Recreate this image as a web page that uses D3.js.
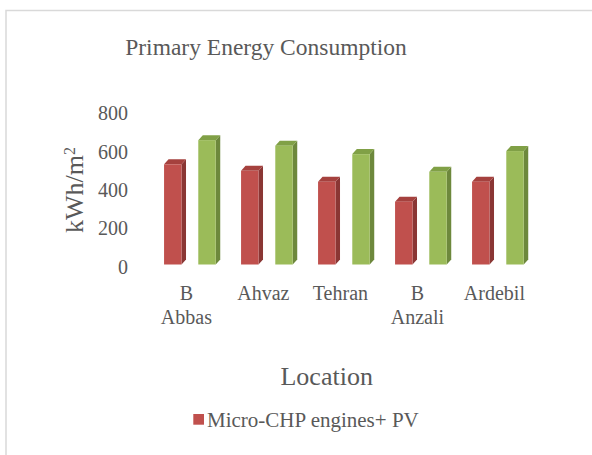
<!DOCTYPE html>
<html>
<head>
<meta charset="utf-8">
<script src="https://cdn.jsdelivr.net/npm/d3@7"></script>
<style>
  body { margin: 0; background: #fff; }
</style>
</head>
<body>
<div id="chart"></div>
<script>
// Data
const locations = ["B Abbas", "Ahvaz", "Tehran", "B Anzali", "Ardebil"];
const seriesNames = ["Micro-CHP engines+ PV", "Other"];
const chpValues = [523, 489, 432, 328, 432];
const otherValues = [649, 620, 576, 484, 592];
const yTicks = [0, 200, 400, 600, 800];

const width = 592, height = 455;
const depth = { dx: 4.5, dy: 5 };
const font = "Liberation Serif";
const textColor = "#595959";

const colors = {
  front: ["#c0504d", "#9bbb59"],
  side: ["#8a3634", "#6d883c"],
  top: ["#a5413e", "#80a046"]
};

const svg = d3.select("#chart").append("svg")
  .attr("width", width)
  .attr("height", height)
  .attr("font-family", font);

// chart area border (only left and top visible)
svg.append("rect")
  .attr("x", 6).attr("y", 10.5)
  .attr("width", 700).attr("height", 600)
  .attr("fill", "none")
  .attr("stroke", "#d9d9d9")
  .attr("stroke-width", 1.5);

svg.append("text")
  .attr("x", 266).attr("y", 55)
  .attr("text-anchor", "middle")
  .attr("fill", textColor)
  .attr("font-size", 23.5)
  .text("Primary Energy Consumption");

// scales
const x0 = d3.scaleBand().domain(locations).range([151.4, 536.4]);
const x1 = d3.scaleBand().domain(seriesNames)
  .range([0, x0.bandwidth()])
  .paddingInner(0.49).paddingOuter(0.37);
const y = d3.scaleLinear().domain([0, 800]).range([264.5, 111.2]);

// y axis
const yAxis = d3.axisLeft(y).tickValues(yTicks).tickSize(0).tickPadding(0);
const gy = svg.append("g")
  .attr("transform", "translate(128,2.2)")
  .call(yAxis)
  .attr("font-family", font)
  .attr("font-size", 20);
gy.select(".domain").remove();
gy.selectAll("text").attr("fill", textColor);

// y title
const yTitle = svg.append("text")
  .attr("transform", "translate(83,190) rotate(-90)")
  .attr("text-anchor", "middle")
  .attr("fill", textColor)
  .attr("font-size", 26);
yTitle.append("tspan").text("kWh/m");
yTitle.append("tspan").attr("baseline-shift", "super").attr("font-size", 16).text("2");

// bars
const rows = locations.map((loc, i) => ({
  loc,
  values: [chpValues[i], otherValues[i]]
}));

const groups = svg.append("g").selectAll("g")
  .data(rows)
  .join("g")
  .attr("transform", d => `translate(${x0(d.loc)},0)`);

groups.each(function(d) {
  const g = d3.select(this);
  d.values.forEach((v, s) => {
    const bx = x1(seriesNames[s]);
    const bw = x1.bandwidth();
    const yt = y(v), yb = y(0);
    // side
    g.append("polygon")
      .attr("points", [[bx + bw, yt], [bx + bw + depth.dx, yt - depth.dy],
        [bx + bw + depth.dx, yb - depth.dy], [bx + bw, yb]].join(" "))
      .attr("fill", colors.side[s]);
    // top
    g.append("polygon")
      .attr("points", [[bx, yt], [bx + depth.dx, yt - depth.dy],
        [bx + bw + depth.dx, yt - depth.dy], [bx + bw, yt]].join(" "))
      .attr("fill", colors.top[s]);
    // front
    g.append("rect")
      .attr("x", bx).attr("y", yt)
      .attr("width", bw).attr("height", yb - yt)
      .attr("fill", colors.front[s]);
  });
});

// x labels (two-word names wrap onto two lines)
const xl = svg.append("g").selectAll("text")
  .data(locations)
  .join("text")
  .attr("x", d => x0(d) + x0.bandwidth() / 2 - 3.5)
  .attr("y", 300)
  .attr("text-anchor", "middle")
  .attr("fill", textColor)
  .attr("font-size", 20);
xl.each(function(d) {
  const t = d3.select(this);
  d.split(" ").forEach((p, i) => {
    t.append("tspan")
      .attr("x", t.attr("x"))
      .attr("dy", i === 0 ? 0 : 24)
      .text(p);
  });
});

svg.append("text")
  .attr("x", 326.7).attr("y", 385)
  .attr("text-anchor", "middle")
  .attr("fill", textColor)
  .attr("font-size", 26)
  .text("Location");

// legend
svg.append("rect")
  .attr("x", 193.3).attr("y", 414)
  .attr("width", 10.7).attr("height", 10.7)
  .attr("fill", colors.front[0]);
svg.append("text")
  .attr("x", 207).attr("y", 427)
  .attr("fill", textColor)
  .attr("font-size", 21)
  .text(seriesNames[0]);
</script>
</body>
</html>
